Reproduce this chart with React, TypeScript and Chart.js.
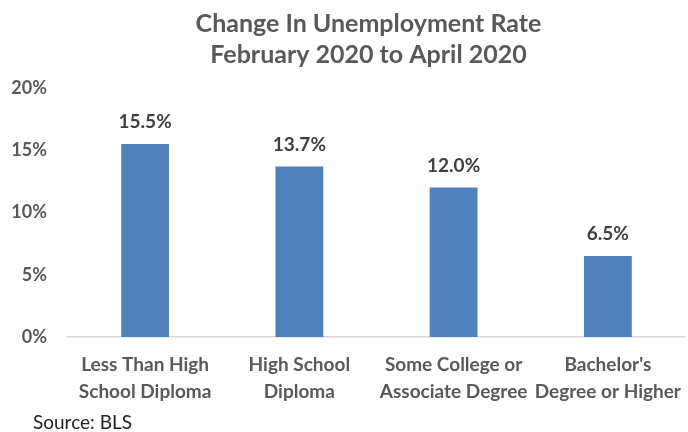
import React, { useEffect, useRef } from "react";
import { Chart, registerables } from "chart.js";

Chart.register(...registerables);

const categories: string[][] = [
  ["Less Than High", "School Diploma"],
  ["High School", "Diploma"],
  ["Some College or", "Associate Degree"],
  ["Bachelor's", "Degree or Higher"],
];
const values: number[] = [15.5, 13.7, 12.0, 6.5];
const titleLines: string[] = ["Change In Unemployment Rate", "February 2020 to April 2020"];
const sourceText = "Source: BLS";

const FONT = "Lato, 'Open Sans', sans-serif";

const overlay = {
  id: "overlay",
  afterDraw(chart: any) {
    const ctx = chart.ctx;
    const area = chart.chartArea;
    ctx.save();
    // title
    ctx.fillStyle = "#595959";
    ctx.font = `bold 25px ${FONT}`;
    ctx.textAlign = "center";
    ctx.textBaseline = "middle";
    const cx = (area.left + area.right) / 2 - 8;
    ctx.fillText(titleLines[0], cx, 24);
    ctx.fillText(titleLines[1], cx, 55);
    // data labels
    const meta = chart.getDatasetMeta(0);
    ctx.fillStyle = "#404040";
    ctx.font = `bold 19px ${FONT}`;
    meta.data.forEach((bar: any, i: number) => {
      ctx.fillText(values[i].toFixed(1) + "%", bar.x, bar.y - 22);
    });
    // source
    ctx.fillStyle = "#222222";
    ctx.font = `19px ${FONT}`;
    ctx.textAlign = "left";
    ctx.fillText(sourceText, 33, 423);
    ctx.restore();
  },
};

export default function App() {
  const ref = useRef<HTMLCanvasElement>(null);
  useEffect(() => {
    document.body.style.margin = "0";
    const chart = new Chart(ref.current!, {
      type: "bar",
      data: {
        labels: categories,
        datasets: [
          {
            data: values,
            backgroundColor: "#4F81BD",
            borderWidth: 0,
            categoryPercentage: 1,
            barPercentage: 0.31,
          },
        ],
      },
      options: {
        responsive: false,
        animation: false,
        layout: { padding: { top: 88, right: 3, bottom: 0, left: 0 } },
        plugins: { legend: { display: false }, tooltip: { enabled: false }, title: { display: false } },
        scales: {
          x: {
            grid: { display: false, drawTicks: false },
            border: { display: true, color: "#D9D9D9", width: 1.5 },
            ticks: {
              color: "#595959",
              font: { family: FONT, size: 19, weight: "bold", lineHeight: 1.42 },
              padding: 14,
              maxRotation: 0,
              autoSkip: false,
            },
            afterFit(scale: any) {
              scale.height = 95;
              scale.paddingLeft = 0;
              scale.paddingRight = 0;
            },
          },
          y: {
            min: 0,
            max: 20,
            grid: { display: false, drawTicks: false },
            border: { display: false },
            ticks: {
              stepSize: 5,
              color: "#595959",
              font: { family: FONT, size: 18, weight: "bold" },
              padding: 21,
              callback: (v: any) => v + "%",
            },
            afterFit(scale: any) {
              scale.width = 68;
            },
          },
        },
      },
      plugins: [overlay],
    });
    return () => chart.destroy();
  }, []);
  return <canvas ref={ref} width={688} height={432} style={{ display: "block" }} />;
}
